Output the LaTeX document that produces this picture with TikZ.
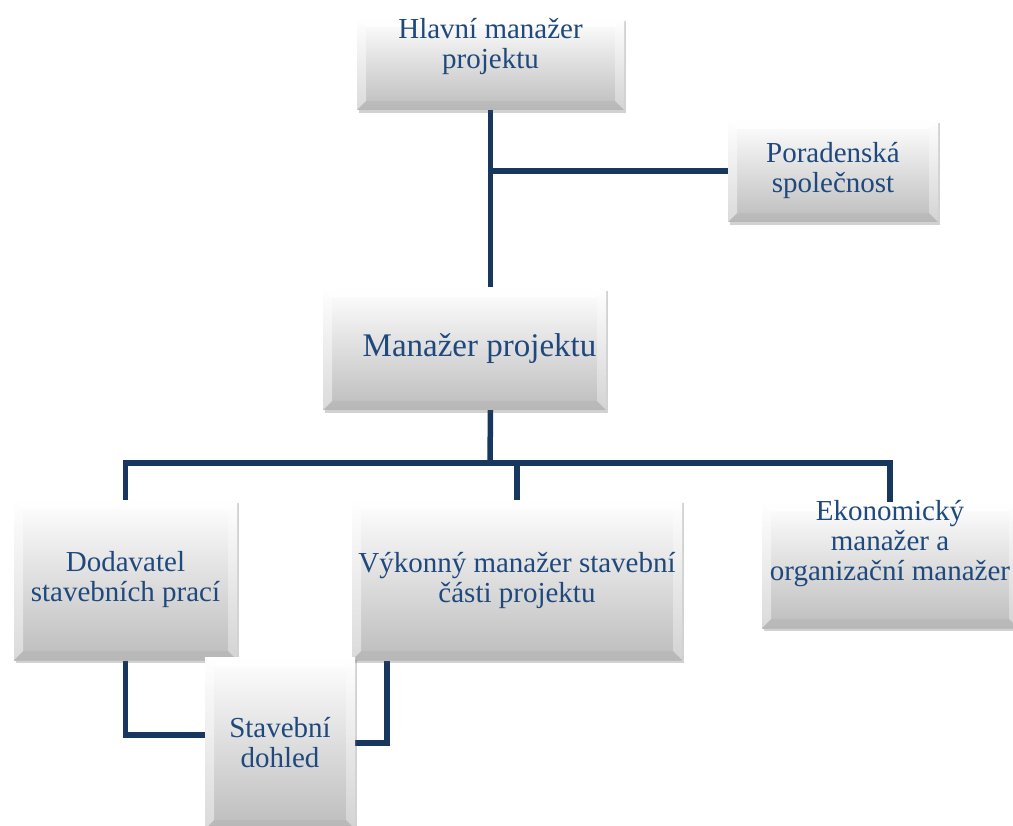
\documentclass[tikz,border=0pt]{standalone}
\usepackage{fontspec}
\setmainfont{Liberation Serif}
\usetikzlibrary{shadows,backgrounds}
\definecolor{boxtext}{HTML}{1F497D}
\definecolor{connblue}{HTML}{17375E}

\begin{document}
\begin{tikzpicture}[%
      x=1pt, y=-1pt,
      every node/.style={inner sep=0pt, outer sep=0pt},
      box/.style={rectangle, top color=white, middle color=black!8,
                  bottom color=black!26,
                  drop shadow={shadow xshift=2pt, shadow yshift=-3pt,
                               opacity=.25, fill=black!70},
                  path picture={
                    \fill[white, opacity=.8]
                      (path picture bounding box.north west)
                      -- (path picture bounding box.north east)
                      -- ([shift={(-9pt,-9pt)}]path picture bounding box.north east)
                      -- ([shift={(9pt,-9pt)}]path picture bounding box.north west)
                      -- cycle;
                    \fill[white, opacity=.45]
                      (path picture bounding box.north west)
                      -- ([shift={(9pt,-9pt)}]path picture bounding box.north west)
                      -- ([shift={(9pt,9pt)}]path picture bounding box.south west)
                      -- (path picture bounding box.south west) -- cycle;
                    \fill[white, opacity=.35]
                      (path picture bounding box.north east)
                      -- ([shift={(-9pt,-9pt)}]path picture bounding box.north east)
                      -- ([shift={(-9pt,9pt)}]path picture bounding box.south east)
                      -- (path picture bounding box.south east) -- cycle;
                    \fill[black, opacity=.03]
                      (path picture bounding box.south west)
                      -- ([shift={(9pt,9pt)}]path picture bounding box.south west)
                      -- ([shift={(-9pt,9pt)}]path picture bounding box.south east)
                      -- (path picture bounding box.south east) -- cycle;
                  }},
      box text/.style={align=center, text=boxtext,
                       font={\fontsize{29}{30}\selectfont}},
      conn/.style={draw=connblue, line width=5.5pt}
    ]
    \useasboundingbox (0,0) rectangle (1013,826);

    \node [box, minimum width=267pt, minimum height=92pt] (hm) at (490.5,64) {};
    \node [box text] (hm text) at ([yshift=17pt]hm.center)
     {Hlavní manažer\\projektu};

    \node [box, minimum width=210pt, minimum height=102pt] (por) at (833,171) {};
    \node [box text] (por text) at (por.center) {Poradenská\\společnost};

    \node [box, minimum width=283pt, minimum height=122pt] (mp) at (464.5,349) {};
    \node [box text, font={\fontsize{33}{34}\selectfont}] (mp text)
     at ([xshift=15pt]mp.center) {Manažer projektu};

    \node [box, minimum width=223pt, minimum height=160pt] (dod) at (125.5,580) {};
    \node [box text] (dod text) at (dod.center) {Dodavatel\\stavebních prací};

    \node [box, minimum width=330pt, minimum height=160pt] (vyk) at (517,580) {};
    \node [box text] (vyk text) at (vyk.center)
     {Výkonný manažer stavební\\části projektu};

    \node [box, minimum width=256pt, minimum height=126pt] (eko) at (890,565) {};
    \node [box text] (eko text) at ([yshift=21pt]eko.center)
     {Ekonomický\\manažer a\\organizační manažer};

    \node [box, minimum width=150pt, minimum height=172pt] (sd) at (280,743) {};
    \node [box text] (sd text) at (sd.center) {Stavební\\dohled};

    \coordinate (bus) at (490,463);

    \begin{scope}[on background layer]
      \draw [conn] (hm.south) -- (hm.south |- mp.north);
      \draw [conn] (hm.south |- por.west) -- (por.west);
      \draw [conn] (hm.south |- mp.south) -- (bus);
      \draw [conn] (dod.north) |- (bus) -| (eko.north);
      \draw [conn] (bus -| vyk.north) -- (vyk.north);
      \draw [conn] (dod.south) |- ([yshift=8pt]sd.west);
      \draw [conn] ([xshift=35pt]vyk.south west) |- (sd.east);
    \end{scope}
\end{tikzpicture}
\end{document}
